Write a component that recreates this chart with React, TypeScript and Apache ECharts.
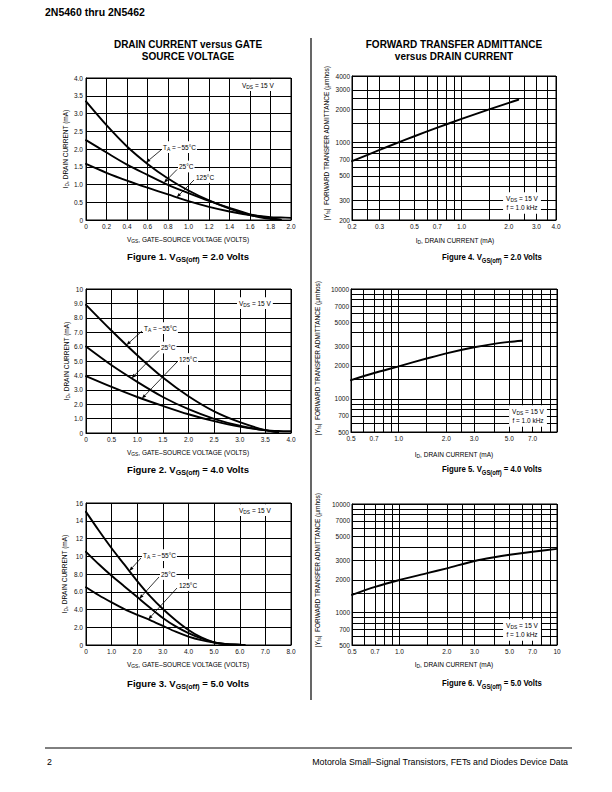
import React, { useEffect, useRef } from 'react';
import * as echarts from 'echarts';

const FONT = '"Liberation Sans", Arial, Helvetica, sans-serif';

// ---------- Figure 1 : VGS(off) = 2.0 V ----------
const fig1Vgs = [0, 0.2, 0.4, 0.6, 0.8, 1.0, 1.2, 1.4, 1.6, 1.8, 1.9, 2.0];
const fig1IdM55 = [3.34, 2.67, 2.07, 1.58, 1.17, 0.83, 0.55, 0.32, 0.14, 0.03, 0.0, null];
const fig1Id25 = [2.25, 1.9, 1.56, 1.27, 0.99, 0.76, 0.54, 0.34, 0.16, 0.05, 0.01, null];
const fig1Id125 = [1.58, 1.33, 1.11, 0.91, 0.72, 0.53, 0.37, 0.24, 0.14, 0.08, 0.07, 0.06];

// ---------- Figure 2 : VGS(off) = 4.0 V ----------
const fig2Vgs = [0, 0.5, 1.0, 1.5, 2.0, 2.5, 3.0, 3.5, 3.75, 4.0];
const fig2IdM55 = [8.9, 7.1, 5.4, 3.85, 2.55, 1.5, 0.75, 0.2, 0.04, null];
const fig2Id25 = [6.0, 4.7, 3.55, 2.5, 1.65, 0.98, 0.5, 0.18, 0.08, null];
const fig2Id125 = [3.95, 3.2, 2.5, 1.88, 1.3, 0.82, 0.44, 0.2, 0.14, 0.12];

// ---------- Figure 3 : VGS(off) = 5.0 V ----------
const fig3Vgs = [0, 0.5, 1, 1.5, 2, 2.5, 3, 3.5, 4, 4.5, 5, 5.5, 6, 6.2];
const fig3IdM55 = [15.0, 12.9, 10.9, 9.05, 7.2, 5.5, 4.05, 2.8, 1.7, 0.85, 0.3, 0.08, 0, null];
const fig3Id25 = [10.5, 9.1, 7.8, 6.6, 5.4, 4.2, 3.05, 2.1, 1.35, 0.75, 0.3, 0.1, 0.02, null];
const fig3Id125 = [6.5, 5.6, 4.8, 4.05, 3.4, 2.8, 2.15, 1.5, 0.95, 0.55, 0.28, 0.1, 0.03, 0];

// ---------- Figures 4-6 : |Yfs| vs ID ----------
const fig4Id = [0.2, 0.3, 0.4, 0.5, 0.7, 1.0, 1.5, 2.0, 2.3];
const fig4Yfs = [680, 860, 1010, 1142, 1365, 1638, 2000, 2290, 2440];
const fig5Id = [0.5, 0.7, 1.0, 1.5, 2.0, 3.0, 4.0, 5.0, 6.0];
const fig5Yfs = [1480, 1720, 1980, 2330, 2600, 2950, 3170, 3300, 3380];
const fig6Id = [0.5, 0.7, 1.0, 1.5, 2.0, 3.0, 4.0, 5.0, 7.0, 10];
const fig6Yfs = [1450, 1720, 1990, 2300, 2550, 2980, 3230, 3400, 3630, 3850];

// tick labels / grid values for log charts
const fig4XLabels = ['0.2', '0.3', '0.5', '0.7', '1.0', '2.0', '3.0', '4.0'];
const fig4YLabels = ['200', '300', '500', '700', '1000', '2000', '3000', '4000'];
const fig4XGrid = [0.2, 0.25, 0.3, 0.4, 0.5, 0.6, 0.7, 0.8, 0.9, 1.0, 1.5, 2.0, 2.5, 3.0, 3.5, 4.0];
const fig4YGrid = [200, 250, 300, 400, 500, 600, 700, 800, 900, 1000, 1500, 2000, 2500, 3000, 4000];
const fig5XLabels = ['0.5', '0.7', '1.0', '2.0', '3.0', '5.0', '7.0'];
const fig6XLabels = ['0.5', '0.7', '1.0', '2.0', '3.0', '5.0', '7.0', '10'];
const fig56YLabels = ['500', '700', '1000', '2000', '3000', '5000', '7000', '10000'];
const fig56XGrid = [0.5, 0.6, 0.7, 0.8, 0.9, 1.0, 1.5, 2.0, 2.5, 3.0, 4.0, 5.0, 6.0, 7.0, 8.0, 9.0, 10];
const fig56YGrid = [500, 600, 700, 800, 900, 1000, 1500, 2000, 3000, 4000, 5000, 6000, 7000, 8000, 9000, 10000];

const tempLabels = ['T_{A} = \u221255\u00b0C', '25\u00b0C', '125\u00b0C'];

// ---------- helpers ----------
const pairs = (xs: number[], ys: (number | null)[]) =>
  xs.map((x, i) => [x, ys[i]]).filter((p) => p[1] !== null && p[1] !== undefined);

function interp(xs: number[], ys: (number | null)[], x: number) {
  for (let i = 0; i < xs.length - 1; i++) {
    const a = ys[i], b = ys[i + 1];
    if (x >= xs[i] && x <= xs[i + 1] && a != null && b != null) {
      const t = (x - xs[i]) / (xs[i + 1] - xs[i]);
      return a + t * (b - a);
    }
  }
  return 0;
}

const linFmt = (v: number) => (v === 0 ? '0' : v >= 10 && Number.isInteger(v) ? String(v) : v.toFixed(1));

const gridBox = (left: number, top: number, width: number, height: number) => ({
  left, top, width, height, show: true, borderColor: '#000', borderWidth: 1, containLabel: false,
});

const LINE = { color: '#000', width: 1 };
const LABEL = { fontSize: 6.5, color: '#111', fontFamily: FONT };

function linAxis(gridIndex: number, min: number, max: number, interval: number, margin: number) {
  return {
    type: 'value', gridIndex, min, max, interval,
    axisLine: { show: true, lineStyle: LINE },
    axisTick: { show: false },
    splitLine: { show: true, lineStyle: LINE },
    axisLabel: { ...LABEL, margin, formatter: linFmt },
  };
}

function logAxis(gridIndex: number, min: number, max: number, gridVals: number[], labels: string[], margin: number) {
  return {
    type: 'log', logBase: 10, gridIndex, min, max,
    axisLine: { show: true, lineStyle: LINE },
    axisTick: { show: false, customValues: gridVals },
    splitLine: { show: true, lineStyle: LINE },
    minorTick: { show: false },
    minorSplitLine: { show: false },
    axisLabel: {
      ...LABEL, margin, customValues: labels.map(Number),
      formatter: (v: number) => labels.find((l) => Math.abs(Number(l) - v) < 1e-6 * Math.max(1, v)) ?? String(v),
    },
  };
}

const curve = (idx: number, data: any[]) => ({
  type: 'line', xAxisIndex: idx, yAxisIndex: idx, data, showSymbol: false, symbol: 'none',
  smooth: 0.3, lineStyle: { color: '#000', width: 1.9, cap: 'round', join: 'round' }, silent: true, z: 5,
});

function richStyles(base: number, bold: boolean) {
  const w = bold ? 'bold' : 'normal';
  const lh = base * 1.5;
  const off = base * 0.28;
  return {
    n: { fontSize: base, fontFamily: FONT, fontWeight: w, fill: '#000', lineHeight: lh },
    s: { fontSize: base * 0.75, fontFamily: FONT, fontWeight: w, fill: '#000', lineHeight: lh - 2 * off, verticalAlign: 'bottom' },
  };
}

function rt(s: string) {
  return s
    .split('\n')
    .map((line) => {
      let out = '';
      const re = /_\{([^}]*)\}/g;
      let last = 0;
      let m: RegExpExecArray | null;
      while ((m = re.exec(line))) {
        if (m.index > last) out += `{n|${line.slice(last, m.index)}}`;
        out += `{s|${m[1]}}`;
        last = re.lastIndex;
      }
      if (last < line.length) out += `{n|${line.slice(last)}}`;
      return out;
    })
    .join('\n');
}

function T(x: number, y: number, text: string, base: number, o: any = {}) {
  const align = o.align || 'center';
  return {
    type: 'text', x, y, rotation: o.rotation || 0, scaleX: o.scaleX ?? 1, z: o.z ?? 60, silent: true,
    style: {
      text: rt(text), rich: richStyles(base, !!o.bold),
      fontSize: base, fontFamily: FONT, fontWeight: o.bold ? 'bold' : 'normal', fill: '#000',
      align, verticalAlign: 'middle', textAlign: align, textVerticalAlign: 'middle',
      backgroundColor: o.bg, padding: o.pad,
    },
  };
}

function arrow(from: number[], tip: number[]) {
  const dx = tip[0] - from[0], dy = tip[1] - from[1];
  const len = Math.hypot(dx, dy) || 1;
  const ux = dx / len, uy = dy / len;
  const L = 4.5, W = 1.7;
  const bx = tip[0] - ux * L, by = tip[1] - uy * L;
  return [
    { type: 'line', z: 61, silent: true, shape: { x1: from[0], y1: from[1], x2: bx, y2: by }, style: { stroke: '#000', lineWidth: 0.8 } },
    { type: 'polygon', z: 61, silent: true, shape: { points: [tip, [bx - uy * W, by + ux * W], [bx + uy * W, by - ux * W]] }, style: { fill: '#000' } },
  ];
}

const option: any = {
  animation: false,
  backgroundColor: '#fff',
  grid: [
    gridBox(86, 78, 205, 142),
    gridBox(86, 289, 205, 144),
    gridBox(86, 503, 205, 142),
    gridBox(352, 76, 204, 144),
    gridBox(351, 289, 206, 143),
    gridBox(352, 504, 205, 141),
  ],
  xAxis: [
    linAxis(0, 0, 2, 0.2, 3),
    linAxis(1, 0, 4, 0.5, 3),
    linAxis(2, 0, 8, 1, 3),
    logAxis(3, 0.2, 4, fig4XGrid, fig4XLabels, 3),
    logAxis(4, 0.5, 10, fig56XGrid, fig5XLabels, 3),
    logAxis(5, 0.5, 10, fig56XGrid, fig6XLabels, 3),
  ],
  yAxis: [
    linAxis(0, 0, 4, 0.5, 3),
    linAxis(1, 0, 10, 1, 3),
    linAxis(2, 0, 16, 2, 3),
    logAxis(3, 200, 4000, fig4YGrid, fig4YLabels, 2),
    logAxis(4, 500, 10000, fig56YGrid, fig56YLabels, 2),
    logAxis(5, 500, 10000, fig56YGrid, fig56YLabels, 2),
  ],
  series: [
    curve(0, pairs(fig1Vgs, fig1IdM55)),
    curve(0, pairs(fig1Vgs, fig1Id25)),
    curve(0, pairs(fig1Vgs, fig1Id125)),
    curve(1, pairs(fig2Vgs, fig2IdM55)),
    curve(1, pairs(fig2Vgs, fig2Id25)),
    curve(1, pairs(fig2Vgs, fig2Id125)),
    curve(2, pairs(fig3Vgs, fig3IdM55)),
    curve(2, pairs(fig3Vgs, fig3Id25)),
    curve(2, pairs(fig3Vgs, fig3Id125)),
    curve(3, pairs(fig4Id, fig4Yfs)),
    curve(4, pairs(fig5Id, fig5Yfs)),
    curve(5, pairs(fig6Id, fig6Yfs)),
  ],
};

function buildGraphics(chart: any) {
  const g: any[] = [];
  // page furniture
  g.push(T(45, 12, '2N5460 thru 2N5462', 10.5, { bold: true, align: 'left' }));
  g.push({ type: 'line', silent: true, shape: { x1: 311, y1: 38, x2: 311, y2: 700 }, style: { stroke: '#000', lineWidth: 1.2 } });
  g.push({ type: 'line', silent: true, shape: { x1: 45, y1: 748, x2: 572, y2: 748 }, style: { stroke: '#000', lineWidth: 1 } });
  g.push(T(47, 762, '2', 8.8, { align: 'left' }));
  g.push(T(568, 762, 'Motorola Small\u2013Signal Transistors, FETs and Diodes Device Data', 8.8, { align: 'right' }));

  // titles
  g.push(T(188, 44.5, 'DRAIN CURRENT versus GATE', 10, { bold: true }));
  g.push(T(188, 56.5, 'SOURCE VOLTAGE', 10, { bold: true }));
  g.push(T(454, 44.5, 'FORWARD TRANSFER ADMITTANCE', 10, { bold: true }));
  g.push(T(454, 56.5, 'versus DRAIN CURRENT', 10, { bold: true }));

  // captions
  g.push(T(188, 256, 'Figure 1. V_{GS(off)} = 2.0 Volts', 9.5, { bold: true }));
  g.push(T(188, 469, 'Figure 2. V_{GS(off)} = 4.0 Volts', 9.5, { bold: true }));
  g.push(T(188, 683, 'Figure 3. V_{GS(off)} = 5.0 Volts', 9.5, { bold: true }));
  g.push(T(492, 257, 'Figure 4. V_{GS(off)} = 2.0 Volts', 9.5, { bold: true, scaleX: 0.82 }));
  g.push(T(492, 469, 'Figure 5. V_{GS(off)} = 4.0 Volts', 9.5, { bold: true, scaleX: 0.82 }));
  g.push(T(492, 683, 'Figure 6. V_{GS(off)} = 5.0 Volts', 9.5, { bold: true, scaleX: 0.82 }));

  // axis names
  const xVgs = 'V_{GS}, GATE\u2013SOURCE VOLTAGE (VOLTS)';
  const yId = 'I_{D}, DRAIN CURRENT (mA)';
  const xId = 'I_{D}, DRAIN CURRENT (mA)';
  const yYfs = '|Y_{fs}|  FORWARD TRANSFER ADMITTANCE (\u03bcmhos)';
  g.push(T(188, 239.5, xVgs, 6.5));
  g.push(T(188, 452.5, xVgs, 6.5));
  g.push(T(188, 664, xVgs, 6.5));
  g.push(T(65, 149, yId, 6.5, { rotation: Math.PI / 2 }));
  g.push(T(66, 361, yId, 6.5, { rotation: Math.PI / 2 }));
  g.push(T(64, 574, yId, 6.5, { rotation: Math.PI / 2 }));
  g.push(T(455, 240.5, xId, 6.5));
  g.push(T(454, 454, xId, 6.5));
  g.push(T(454, 664, xId, 6.5));
  g.push(T(326, 143, yYfs, 6.5, { rotation: Math.PI / 2 }));
  g.push(T(317, 358, yYfs, 6.5, { rotation: Math.PI / 2 }));
  g.push(T(317, 570, yYfs, 6.5, { rotation: Math.PI / 2 }));

  // VDS notes
  g.push(T(240, 85, 'V_{DS} = 15 V', 6.5, { align: 'left', bg: '#fff', pad: [1, 2] }));
  g.push(T(237, 303, 'V_{DS} = 15 V', 6.5, { align: 'left', bg: '#fff', pad: [1, 2] }));
  g.push(T(237, 510, 'V_{DS} = 15 V', 6.5, { align: 'left', bg: '#fff', pad: [1, 2] }));
  g.push(T(522, 203, 'V_{DS} = 15 V\nf = 1.0 kHz', 6.5, { bg: '#fff', pad: [1, 3] }));
  g.push(T(528, 416, 'V_{DS} = 15 V\nf = 1.0 kHz', 6.5, { bg: '#fff', pad: [1, 3] }));
  g.push(T(522, 630, 'V_{DS} = 15 V\nf = 1.0 kHz', 6.5, { bg: '#fff', pad: [1, 3] }));

  // temperature annotations with arrows
  const figs = [
    { gi: 0, xs: fig1Vgs, ys: [fig1IdM55, fig1Id25, fig1Id125], ann: [[162, 147, 0.585], [178, 166.5, 0.76], [195, 177, 0.885]] },
    { gi: 1, xs: fig2Vgs, ys: [fig2IdM55, fig2Id25, fig2Id125], ann: [[143, 328, 0.79], [160, 347.5, 0.89], [178, 359, 1.09]] },
    { gi: 2, xs: fig3Vgs, ys: [fig3IdM55, fig3Id25, fig3Id125], ann: [[142, 555, 1.69], [160, 574, 2.08], [178, 585, 2.43]] },
  ];
  figs.forEach((f) => {
    f.ann.forEach((a, k) => {
      const [lx, ly, tx] = a;
      const ty = interp(f.xs, f.ys[k], tx);
      const tip = chart.convertToPixel({ gridIndex: f.gi }, [tx, ty]) as number[];
      g.push(T(lx, ly, tempLabels[k], 6.5, { align: 'left', bg: '#fff', pad: [1, 1] }));
      g.push(...arrow([lx - 1, ly + 3], tip));
    });
  });
  return g;
}

export default function App() {
  const ref = useRef<HTMLDivElement>(null);
  useEffect(() => {
    const chart = echarts.init(ref.current!, null, { renderer: 'svg' });
    chart.setOption(option);
    chart.setOption({ graphic: { elements: buildGraphics(chart) } });
    return () => chart.dispose();
  }, []);
  return (
    <div
      ref={ref}
      style={{ position: 'absolute', left: 0, top: 0, width: 612, height: 792, background: '#fff' }}
    />
  );
}
